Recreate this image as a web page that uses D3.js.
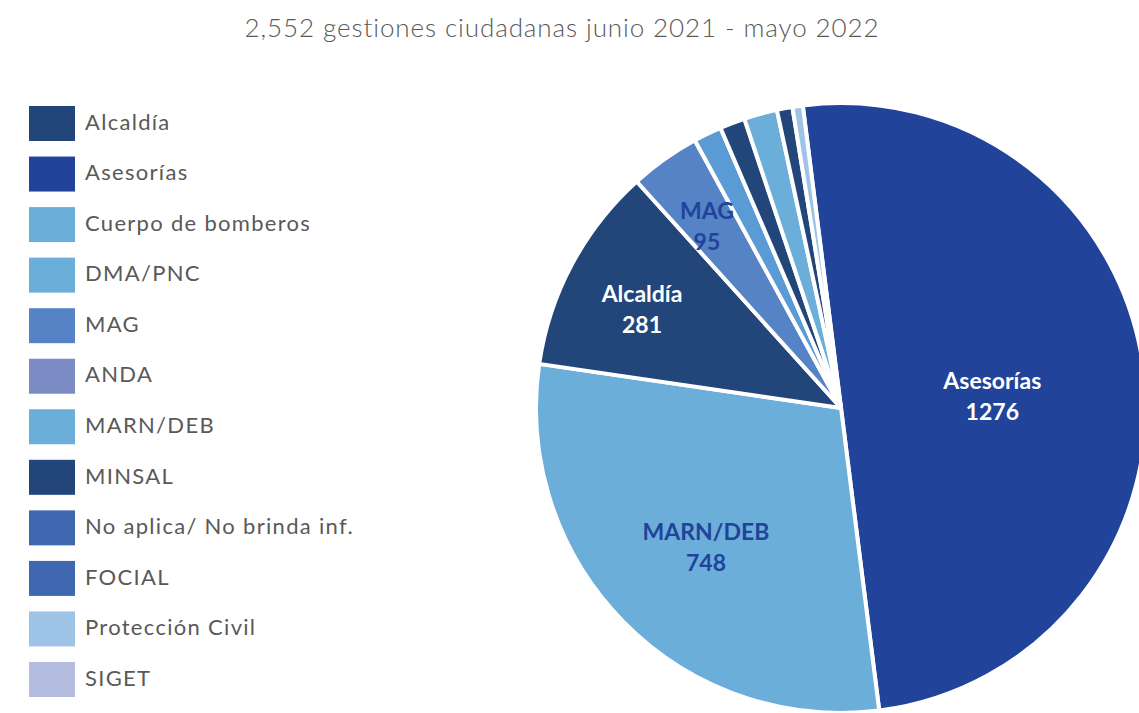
<!DOCTYPE html>
<html>
<head>
<meta charset="utf-8">
<script src="https://cdn.jsdelivr.net/npm/d3@7"></script>
<style>
  body { margin: 0; background: #fff; }
  svg { display: block; }
</style>
</head>
<body>
<script>
// legend entries (in the order the chart lists them)
var legendNames = ['Alcaldía', 'Asesorías', 'Cuerpo de bomberos', 'DMA/PNC', 'MAG', 'ANDA',
  'MARN/DEB', 'MINSAL', 'No aplica/ No brinda inf.', 'FOCIAL', 'Protección Civil', 'SIGET'];
var legendColors = ['#22467a', '#21449a', '#6baed9', '#6baed9', '#5583c5', '#7b8cc5',
  '#6baed9', '#22467a', '#4068b0', '#4068b0', '#9dc3e6', '#b4bde0'];

// slices, clockwise from the top
var sliceNames = ['Asesorías', 'MARN/DEB', 'Alcaldía', 'MAG', 'DMA/PNC', 'MINSAL',
  'Cuerpo de bomberos', 'FOCIAL', 'Protección Civil'];
var sliceValues = [1276, 748, 281, 95, 38, 34, 45, 21, 14];
var sliceColors = ['#21449a', '#6baed9', '#22467a', '#5583c5', '#5b9bd5', '#22467a',
  '#6baed9', '#22467a', '#9dc3e6'];

// which slices carry a label: colour, distance from centre (share of radius)
var labelled = { 'Asesorías': ['#ffffff', 0.5], 'MARN/DEB': ['#21449a', 0.62],
  'Alcaldía': ['#ffffff', 0.74], 'MAG': ['#21449a', 0.76] };

var width = 1139, height = 713;
var cx = 841, cy = 408, radius = 305;

var svg = d3.select('body').append('svg')
  .attr('width', width)
  .attr('height', height);

svg.append('text')
  .attr('x', 562)
  .attr('y', 37)
  .attr('text-anchor', 'middle')
  .attr('font-family', 'Lato, sans-serif')
  .attr('font-weight', 300)
  .attr('font-size', 26)
  .attr('letter-spacing', 0.9)
  .attr('fill', '#595959')
  .text('2,552 gestiones ciudadanas junio 2021 - mayo 2022');

// legend
var leg = svg.append('g').attr('transform', 'translate(29,106)');
var legY = d3.scalePoint().domain(legendNames).range([0, 556]);

var item = leg.selectAll('g.item')
  .data(legendNames)
  .enter().append('g')
  .attr('class', 'item')
  .attr('transform', function(d){ return 'translate(0,' + legY(d) + ')'; });

item.append('rect')
  .attr('width', 46)
  .attr('height', 35)
  .attr('fill', function(d, i){ return legendColors[i]; });

item.append('text')
  .attr('x', 56)
  .attr('y', 16)
  .attr('dy', '0.35em')
  .attr('font-family', 'Lato, sans-serif')
  .attr('font-size', 22)
  .attr('letter-spacing', 1.3)
  .attr('fill', '#595959')
  .text(function(d){ return d; });

// pie
var start = -7.2 * Math.PI / 180;
var pie = d3.pie().sort(null).value(function(d){ return d; })
  .startAngle(start).endAngle(start + 2 * Math.PI);
var arc = d3.arc().innerRadius(0).outerRadius(radius);
var arcs = pie(sliceValues);

var grp = svg.append('g').attr('transform', 'translate(' + cx + ',' + cy + ')');

grp.selectAll('path')
  .data(arcs)
  .enter().append('path')
  .attr('d', arc)
  .attr('fill', function(d, i){ return sliceColors[i]; })
  .attr('stroke', '#fff')
  .attr('stroke-width', 4)
  .attr('stroke-linejoin', 'round');

arcs.forEach(function(a, i){
  var lab = labelled[sliceNames[i]];
  if (!lab) return;
  var r = radius * lab[1];
  var pos = d3.arc().innerRadius(r).outerRadius(r).centroid(a);
  var t = grp.append('text')
    .attr('text-anchor', 'middle')
    .attr('font-family', 'Lato, sans-serif')
    .attr('font-weight', 700)
    .attr('font-size', 23)
    .attr('fill', lab[0]);
  t.append('tspan').attr('x', pos[0]).attr('y', pos[1]).text(sliceNames[i]);
  t.append('tspan').attr('x', pos[0]).attr('y', pos[1] + 31).text(sliceValues[i]);
});
</script>
</body>
</html>
